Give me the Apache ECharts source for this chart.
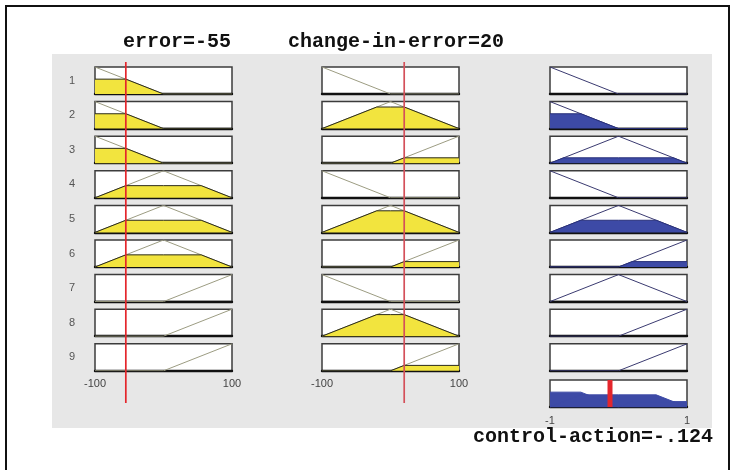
<!DOCTYPE html>
<html>
<head>
<meta charset="utf-8">
<script src="https://cdn.jsdelivr.net/npm/echarts@6/dist/echarts.min.js"></script>
<style>
  html, body { margin: 0; padding: 0; background: #ffffff; }
  #chart { width: 735px; height: 470px; }
</style>
</head>
<body>
<div id="chart"></div>
<script>
// Crisp inputs and the defuzzified output of the rule base
const errorInput = -55;
const changeInput = 20;
const controlOutput = -0.124;

// Rule table: antecedent / consequent term of each rule
const ruleNumbers = ['1', '2', '3', '4', '5', '6', '7', '8', '9'];
const ruleError  = ['neg', 'neg', 'neg', 'zero', 'zero', 'zero', 'pos', 'pos', 'pos'];
const ruleChange = ['neg', 'zero', 'pos', 'neg', 'zero', 'pos', 'neg', 'zero', 'pos'];
const ruleOutput = ['neg', 'neg', 'zero', 'neg', 'zero', 'pos', 'zero', 'pos', 'pos'];

// Membership function breakpoints, input universe [-100, 100]
const inNeg  = [[-100, 1], [0, 0], [100, 0]];
const inZero = [[-100, 0], [0, 1], [100, 0]];
const inPos  = [[-100, 0], [0, 0], [100, 1]];
// Membership function breakpoints, output universe [-1, 1]
const outNeg  = [[-1, 1], [0, 0], [1, 0]];
const outZero = [[-1, 0], [0, 1], [1, 0]];
const outPos  = [[-1, 0], [0, 0], [1, 1]];

const inputRange = [-100, 100];
const outputRange = [-1, 1];

const inputTerms = { neg: inNeg, zero: inZero, pos: inPos };
const outputTerms = { neg: outNeg, zero: outZero, pos: outPos };

// evaluate a piecewise-linear membership function
function degree(pts, x) {
  for (let i = 0; i < pts.length - 1; i++) {
    const [x1, y1] = pts[i], [x2, y2] = pts[i + 1];
    if (x >= x1 && x <= x2) return y1 + (y2 - y1) * (x - x1) / (x2 - x1);
  }
  return 0;
}
// membership function cut off at level h (min implication)
function clipAt(pts, h) {
  const out = [];
  for (let i = 0; i < pts.length; i++) {
    const [x1, y1] = pts[i];
    out.push([x1, Math.min(y1, h)]);
    if (i < pts.length - 1) {
      const [x2, y2] = pts[i + 1];
      if ((y1 - h) * (y2 - h) < 0) {
        const t = (h - y1) / (y2 - y1);
        out.push([x1 + t * (x2 - x1), h]);
      }
    }
  }
  return out;
}

// layout
const colLeft = [95, 322, 550];
const boxW = 137;
const rowTop0 = 67;
const rowPitch = 34.6;
const boxH = 27;
const aggTop = 380;

const YELLOW = '#f2e43e';
const BLUE = '#3d4aa6';
const RED = '#e4262c';

const grids = [], xAxes = [], yAxes = [], series = [];
let gi = 0;

function addCell(left, top, range, showTicks, interval) {
  grids.push({
    left: left, top: top, width: boxW, height: boxH,
    show: true, backgroundColor: '#ffffff', borderColor: '#3c3c3c', borderWidth: 1.5
  });
  xAxes.push({
    gridIndex: gi, type: 'value', min: range[0], max: range[1], interval: interval,
    axisLine: { show: true, onZero: false, lineStyle: { color: '#111111', width: 2.4 } },
    axisTick: { show: false }, splitLine: { show: false },
    axisLabel: { show: showTicks, color: '#444444', fontSize: 11, margin: 8,
                 fontFamily: 'Liberation Sans', showMinLabel: true, showMaxLabel: true }
  });
  yAxes.push({ gridIndex: gi, type: 'value', min: 0, max: 1, show: false });
  return gi++;
}

function mfLine(idx, pts, color) {
  series.push({
    type: 'line', xAxisIndex: idx, yAxisIndex: idx, data: pts, symbol: 'none',
    lineStyle: { color: color, width: 1 }, z: 3, silent: true, animation: false
  });
}
function mfFill(idx, pts, fill, edge) {
  series.push({
    type: 'line', xAxisIndex: idx, yAxisIndex: idx, data: pts, symbol: 'none',
    lineStyle: { color: edge, width: 1 }, areaStyle: { color: fill, opacity: 1 },
    z: 4, silent: true, animation: false
  });
}

const firing = [];
ruleNumbers.forEach((label, r) => {
  const top = rowTop0 + r * rowPitch;
  const last = r === ruleNumbers.length - 1;

  const eMF = inputTerms[ruleError[r]];
  const eDeg = degree(eMF, errorInput);
  let idx = addCell(colLeft[0], top, inputRange, last, 200);
  mfLine(idx, eMF, '#9c9c82');
  if (eDeg > 0) mfFill(idx, clipAt(eMF, eDeg), YELLOW, '#2a2a1a');

  const cMF = inputTerms[ruleChange[r]];
  const cDeg = degree(cMF, changeInput);
  idx = addCell(colLeft[1], top, inputRange, last, 200);
  mfLine(idx, cMF, '#9c9c82');
  if (cDeg > 0) mfFill(idx, clipAt(cMF, cDeg), YELLOW, '#2a2a1a');

  const w = Math.min(eDeg, cDeg);
  firing.push(w);
  const oMF = outputTerms[ruleOutput[r]];
  idx = addCell(colLeft[2], top, outputRange, false, 2);
  mfLine(idx, oMF, '#3a3a70');
  if (w > 0) mfFill(idx, clipAt(oMF, w), BLUE, '#28307a');
});

// aggregated output set
const aggIdx = addCell(colLeft[2], aggTop, outputRange, true, 2);
ruleOutput.forEach((term, r) => {
  if (firing[r] > 0) mfFill(aggIdx, clipAt(outputTerms[term], firing[r]), BLUE, BLUE);
});
series.push({
  type: 'line', xAxisIndex: aggIdx, yAxisIndex: aggIdx,
  data: [[controlOutput, 0], [controlOutput, 1]], symbol: 'none',
  lineStyle: { color: RED, width: 5 }, z: 6, silent: true, animation: false
});

// input markers running down each input column
[[0, errorInput, RED], [1, changeInput, '#d4505a']].forEach(([c, v, col]) => {
  grids.push({ left: colLeft[c], top: 62, width: boxW, height: 341, show: false });
  xAxes.push({ gridIndex: gi, type: 'value', min: inputRange[0], max: inputRange[1], show: false });
  yAxes.push({ gridIndex: gi, type: 'value', min: 0, max: 1, show: false });
  series.push({
    type: 'line', xAxisIndex: gi, yAxisIndex: gi, data: [[v, 0], [v, 1]], symbol: 'none',
    lineStyle: { color: col, width: 1.7 }, z: 8, silent: true, animation: false
  });
  gi++;
});

const fmtOut = String(controlOutput).replace('0.', '.');
const titleFont = 'bold 20px "Liberation Mono"';
const graphics = [
  { type: 'rect', z: -10, shape: { x: 6, y: 6, width: 723, height: 470 },
    style: { fill: '#ffffff', stroke: '#111111', lineWidth: 2 } },
  { type: 'rect', z: -9, shape: { x: 52, y: 54, width: 660, height: 374 },
    style: { fill: '#e7e7e7' } },
  { type: 'text', x: 177, y: 42, style: { text: 'error=' + errorInput, font: titleFont,
    fill: '#111111', align: 'center', verticalAlign: 'middle' } },
  { type: 'text', x: 396, y: 42, style: { text: 'change-in-error=' + changeInput, font: titleFont,
    fill: '#111111', align: 'center', verticalAlign: 'middle' } },
  { type: 'text', x: 713, y: 437, style: { text: 'control-action=' + fmtOut, font: titleFont,
    fill: '#111111', align: 'right', verticalAlign: 'middle' } }
];
ruleNumbers.forEach((label, r) => {
  graphics.push({ type: 'text', x: 72, y: rowTop0 + r * rowPitch + boxH / 2,
    style: { text: label, font: '11px "Liberation Sans"', fill: '#555555',
             align: 'center', verticalAlign: 'middle' } });
});

const chart = echarts.init(document.getElementById('chart'), null, { renderer: 'canvas' });
chart.setOption({
  animation: false,
  backgroundColor: '#ffffff',
  graphic: { elements: graphics },
  grid: grids,
  xAxis: xAxes,
  yAxis: yAxes,
  series: series
});
</script>
</body>
</html>
